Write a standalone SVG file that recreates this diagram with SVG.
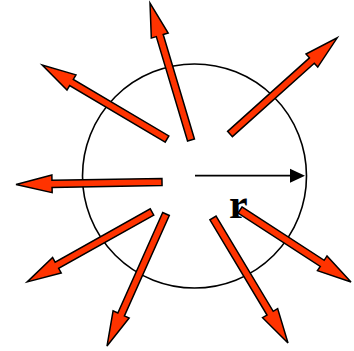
<svg xmlns="http://www.w3.org/2000/svg" width="354" height="351" viewBox="0 0 354 351">
  <style>
    .ray { fill: #FF3300; stroke: #000; stroke-width: 1.5; stroke-linejoin: miter; }
    .rim { fill: none; stroke: #000; stroke-width: 1.6; }
    .rad { stroke: #000; stroke-width: 1.8; fill: none; }
    .lbl { font-family: "Liberation Serif", "Times New Roman", serif; font-weight: bold; font-size: 42px; fill: #000; }
  </style>
  <rect width="354" height="351" fill="#fff"/>
  <g id="circle">
    <circle class="rim" cx="194.5" cy="176" r="112"/>
  </g>
  <g id="radius">
    <line class="rad" x1="195" y1="175.7" x2="293" y2="175.7"/>
    <polygon points="305,175.7 290,168.7 290,182.7" fill="#000"/>
    <text class="lbl" x="229" y="218">r</text>
  </g>
  <g id="connectors">
    <polygon id="ray-up" class="ray" transform="translate(191,140) rotate(-106.66)" points="0,-3.6 109,-3.6 109,-8.8 143,0 109,8.8 109,3.6 0,3.6"/>
    <polygon id="ray-upright" class="ray" transform="translate(230,134) rotate(-41.9)" points="0,-3.6 110,-3.6 110,-8.8 144,0 110,8.8 110,3.6 0,3.6"/>
    <polygon id="ray-upleft" class="ray" transform="translate(167,139) rotate(-149.38)" points="0,-3.6 111,-3.6 111,-8.8 145,0 111,8.8 111,3.6 0,3.6"/>
    <polygon id="ray-left" class="ray" transform="translate(162,182) rotate(179.02)" points="0,-3.6 110,-3.6 110,-8.8 146,0 110,8.8 110,3.6 0,3.6"/>
    <polygon id="ray-downleft" class="ray" transform="translate(152,212) rotate(150.75)" points="0,-3.6 109,-3.6 109,-8.8 143,0 109,8.8 109,3.6 0,3.6"/>
    <polygon id="ray-down" class="ray" transform="translate(166,214) rotate(114.08)" points="0,-3.6 110,-3.6 110,-8.8 144.6,0 110,8.8 110,3.6 0,3.6"/>
    <polygon id="ray-downright" class="ray" transform="translate(213,218) rotate(59.04)" points="0,-3.6 111,-3.6 111,-8.8 145.8,0 111,8.8 111,3.6 0,3.6"/>
    <polygon id="ray-right" class="ray" transform="translate(240,210) rotate(32.97)" points="0,-3.6 98,-3.6 98,-8.8 132.3,0 98,8.8 98,3.6 0,3.6"/>
  </g>
</svg>
